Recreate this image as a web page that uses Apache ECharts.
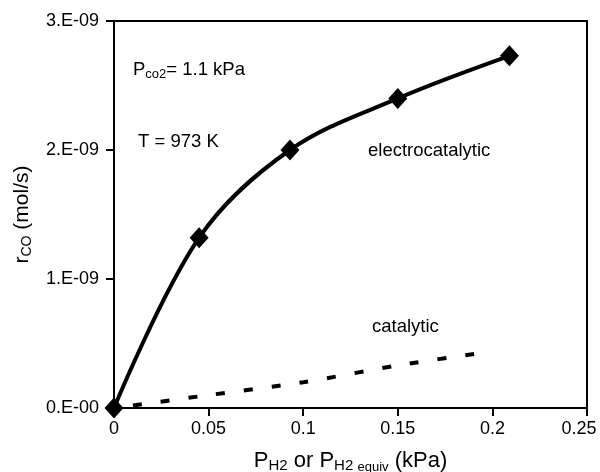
<!DOCTYPE html>
<html>
<head>
<meta charset="utf-8">
<script src="https://cdn.jsdelivr.net/npm/echarts@6/dist/echarts.min.js"></script>
<style>
  html, body { margin: 0; padding: 0; background: #fff; }
  #chart { width: 600px; height: 472px; }
</style>
</head>
<body>
<div id="chart"></div>
<script>
  // values (x in kPa, y in mol/s)
  var electroX = [0, 0.045, 0.093, 0.15, 0.209];
  var electroY = [0, 1.32e-9, 2.0e-9, 2.40e-9, 2.73e-9];
  var catalyticX = [0.01, 0.05, 0.1, 0.15, 0.2];
  var catalyticY = [0.02e-9, 0.10e-9, 0.20e-9, 0.33e-9, 0.44e-9];
  var yTickLabels = ['0.E-00', '1.E-09', '2.E-09', '3.E-09'];

  function pairs(xs, ys) {
    var out = [];
    for (var i = 0; i < xs.length; i++) out.push([xs[i], ys[i]]);
    return out;
  }

  var font = 'Liberation Sans';
  var main = { fontFamily: font, fontSize: 22, color: '#000' };
  var sub = { fontFamily: font, fontSize: 15, color: '#000', padding: [10, 0, 0, 0] };
  var sub2 = { fontFamily: font, fontSize: 13, color: '#000', padding: [13, 0, 0, 0] };
  var noteMain = { fontFamily: font, fontSize: 18.5, fill: '#000' };
  var noteSub = { fontFamily: font, fontSize: 13, fill: '#000', padding: [9, 0, 0, 0] };
  var tickFont = { fontFamily: font, fontSize: 18, color: '#000' };

  var myChart = echarts.init(document.getElementById('chart'));

  var option = {
    backgroundColor: '#fff',
    animation: false,
    grid: {
      left: 114, right: 13, top: 21, bottom: 64,
      outerBoundsMode: 'none',
      containLabel: false,
      show: true, borderColor: '#000', borderWidth: 2
    },
    xAxis: {
      type: 'value',
      min: 0, max: 0.25, interval: 0.05,
      splitLine: { show: false },
      axisLine: { lineStyle: { color: '#000', width: 2 } },
      axisTick: { show: true, length: 8, lineStyle: { color: '#000', width: 2 } },
      axisLabel: { color: '#000', fontFamily: font, fontSize: 18, margin: 12,
        rich: { last: { fontFamily: font, fontSize: 18, color: '#000', padding: [0, 16, 3, 0] } },
        formatter: function (v) {
          var s = String(+v.toFixed(2));
          return v >= 0.25 ? '{last|' + s + '}' : s;
        } },
      name: '{a|P}{s|H2}{a| or P}{s|H2 }{t|equiv}{a| (kPa)}',
      nameLocation: 'middle', nameGap: 40,
      nameTextStyle: { rich: { a: main, s: sub, t: sub2 } }
    },
    yAxis: {
      type: 'value',
      min: 0, max: 3e-9, interval: 1e-9,
      splitLine: { show: false },
      axisLine: { lineStyle: { color: '#000', width: 2 } },
      axisTick: { show: true, length: 8, lineStyle: { color: '#000', width: 2 } },
      axisLabel: { color: '#000', fontFamily: font, fontSize: 18, margin: 15,
        formatter: function (v) { return yTickLabels[Math.round(v / 1e-9)]; } },
      name: '{a|r}{s|CO}{a| (mol/s)}',
      nameLocation: 'middle', nameGap: 80,
      nameTextStyle: { rich: { a: { fontFamily: font, fontSize: 21, color: '#000' },
        s: { fontFamily: font, fontSize: 14, color: '#000', padding: [10, 0, 0, 0] } } }
    },
    series: [
      {
        name: 'electrocatalytic',
        type: 'line',
        smooth: 0.35,
        data: pairs(electroX, electroY),
        symbol: 'diamond',
        symbolSize: [19, 21],
        itemStyle: { color: '#000' },
        lineStyle: { color: '#000', width: 4 },
        z: 3
      },
      {
        name: 'catalytic',
        type: 'line',
        smooth: 0.3,
        data: pairs(catalyticX, catalyticY),
        symbol: 'none',
        lineStyle: { color: '#000', width: 4, type: [9, 19] },
        z: 2
      }
    ],
    graphic: [
      { type: 'text', left: 133, top: 60,
        style: { text: '{a|P}{s|co2}{a|= 1.1 kPa}', rich: { a: noteMain, s: noteSub } } },
      { type: 'text', left: 138, top: 132,
        style: { text: 'T = 973 K', fontFamily: font, fontSize: 18.5, fill: '#000' } },
      { type: 'text', left: 368, top: 141,
        style: { text: 'electrocatalytic', fontFamily: font, fontSize: 18.5, fill: '#000' } },
      { type: 'text', left: 372, top: 317,
        style: { text: 'catalytic', fontFamily: font, fontSize: 18.5, fill: '#000' } }
    ]
  };

  myChart.setOption(option);
  window.onresize = function () { myChart.resize(); };
</script>
</body>
</html>
